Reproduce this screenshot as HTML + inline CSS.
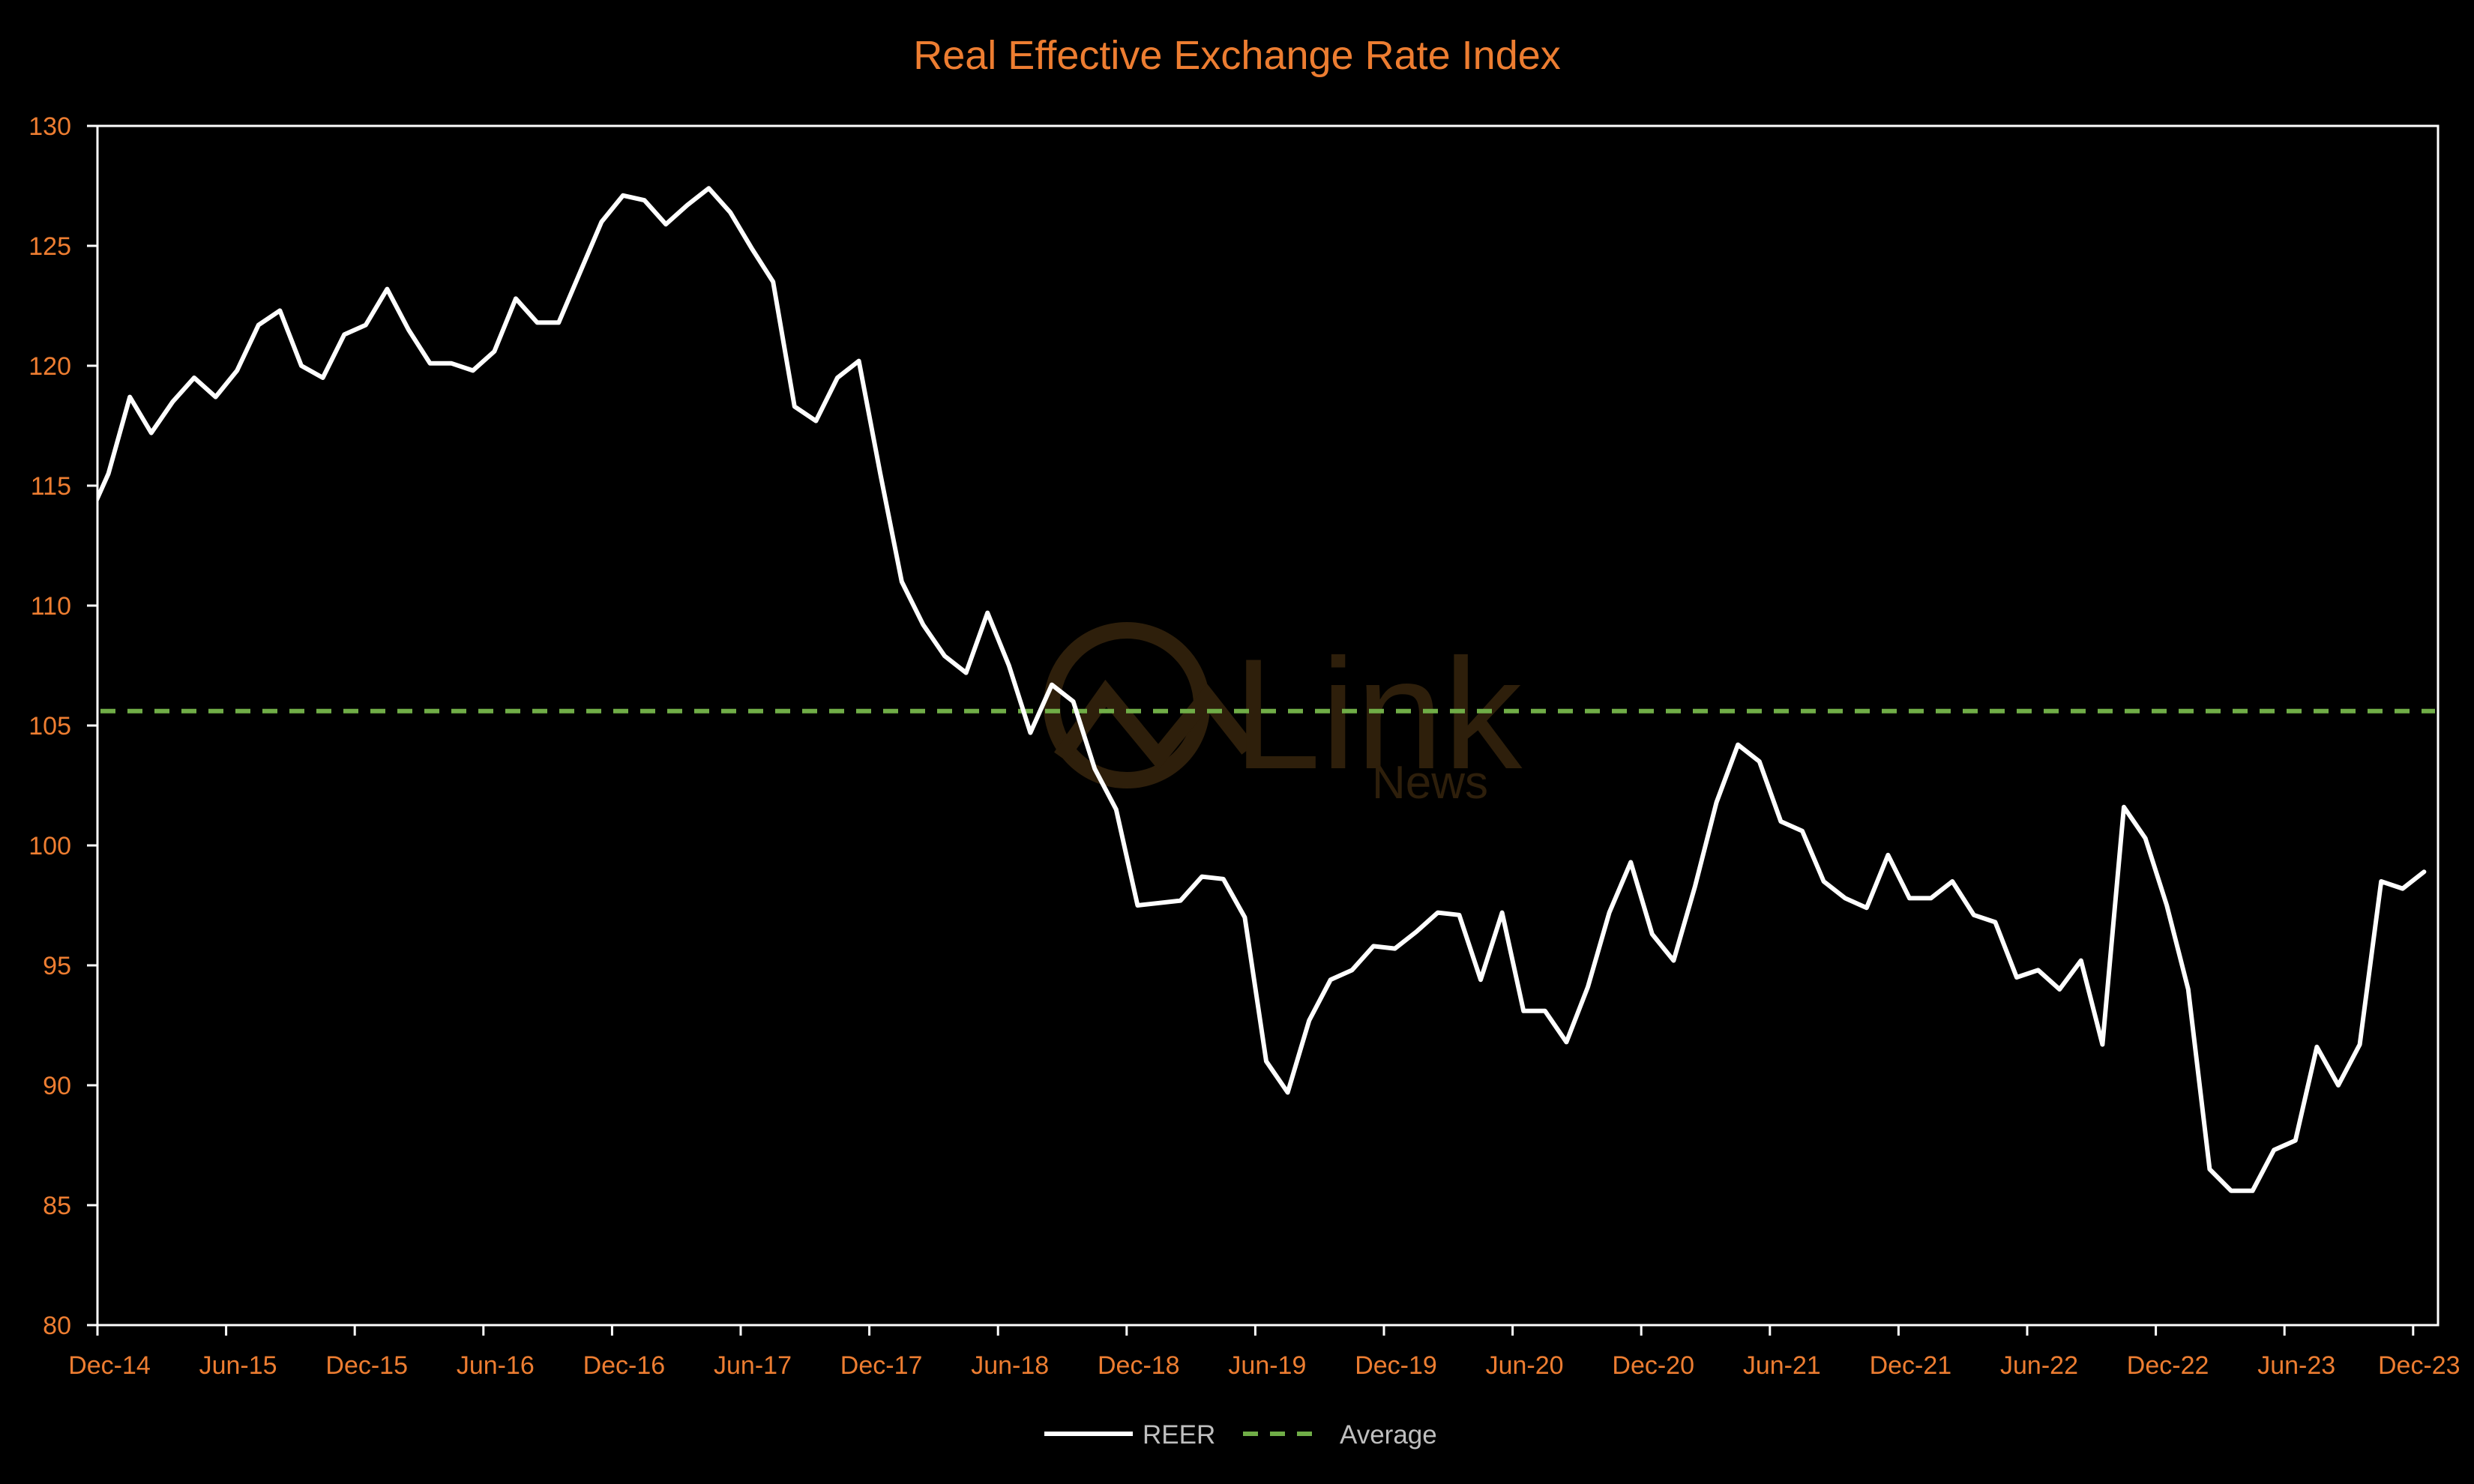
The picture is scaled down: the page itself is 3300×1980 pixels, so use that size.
<!DOCTYPE html>
<html><head><meta charset="utf-8"><style>
html,body{margin:0;padding:0;background:#000;}
svg{display:block;}
</style></head><body>
<svg id="chart" width="3300" height="1980" viewBox="0 0 3300 1980" xmlns="http://www.w3.org/2000/svg">
<rect x="0" y="0" width="3300" height="1980" fill="#000"/>
<text x="1650" y="92" text-anchor="middle" font-family="Liberation Sans, sans-serif" font-size="54" fill="#ED7D31">Real Effective Exchange Rate Index</text>
<g opacity="1">
<circle cx="1503" cy="941" r="100" fill="none" stroke="#2e1f0b" stroke-width="22"/>
<polyline points="1415,1010 1475,925 1545,1010 1610,930 1665,1000" fill="none" stroke="#2e1f0b" stroke-width="22"/>
<text x="1645" y="1025" font-family="Liberation Sans, sans-serif" font-size="210" fill="#2e1f0b">Link</text>
<text x="1830" y="1065" font-family="Liberation Sans, sans-serif" font-size="62" fill="#2e1f0b">News</text>
</g>
<defs><clipPath id="plotclip"><rect x="130" y="160" width="3122" height="1620"/></clipPath></defs>
<g id="axes"></g>
<g id="series" clip-path="url(#plotclip)"></g>
<g>
<line x1="1393" y1="1913" x2="1511" y2="1913" stroke="#fff" stroke-width="6"/>
<text x="1524" y="1926" font-family="Liberation Sans, sans-serif" font-size="35" fill="#bfbfbf">REER</text>
<line x1="1658" y1="1913" x2="1764" y2="1913" stroke="#70AD47" stroke-width="6" stroke-dasharray="20,16"/>
<text x="1787" y="1926" font-family="Liberation Sans, sans-serif" font-size="35" fill="#bfbfbf">Average</text>
</g>
</svg>
<script>
const reerValues = [113.5,115.5,118.7,117.2,118.5,119.5,118.7,119.8,121.7,122.3,
120.0,119.5,121.3,121.7,123.2,121.5,120.1,120.1,119.8,120.6,
122.8,121.8,121.8,123.9,126.0,127.1,126.9,125.9,126.7,127.4,
126.4,124.9,123.5,118.3,117.7,119.5,120.2,115.5,111.0,109.2,
107.9,107.2,109.7,107.5,104.7,106.7,106.0,103.2,101.5,97.5,
97.6,97.7,98.7,98.6,97.0,91.0,89.7,92.7,94.4,94.8,
95.8,95.7,96.4,97.2,97.1,94.4,97.2,93.1,93.1,91.8,
94.1,97.2,99.3,96.3,95.2,98.3,101.8,104.2,103.5,101.0,
100.6,98.5,97.8,97.4,99.6,97.8,97.8,98.5,97.1,96.8,
94.5,94.8,94.0,95.2,91.7,101.6,100.3,97.5,94.0,86.5,
85.6,85.6,87.3,87.7,91.6,90.0,91.7,98.5,98.2,98.9];
const averageValue = 105.6;
const yTicks = [80,85,90,95,100,105,110,115,120,125,130];
const xTickLabels = ["Dec-14","Jun-15","Dec-15","Jun-16","Dec-16","Jun-17","Dec-17","Jun-18","Dec-18","Jun-19","Dec-19","Jun-20","Dec-20","Jun-21","Dec-21","Jun-22","Dec-22","Jun-23","Dec-23"];

const NS="http://www.w3.org/2000/svg";
const L=130,R=3252,T=168,B=1768;
const yMin=80,yMax=130;
function yScale(v){return B-(v-yMin)/(yMax-yMin)*(B-T);}
const step=28.6;
function xScale(i){return 116+step*i;}
function tickX(k){return 130+step*6*k;}
function mk(tag,attrs,parent){const e=document.createElementNS(NS,tag);for(const k in attrs)e.setAttribute(k,attrs[k]);parent.appendChild(e);return e;}
const axes=document.getElementById('axes');
const series=document.getElementById('series');
const f="Liberation Sans, sans-serif";

let fr=mk('rect',{x:L,y:T,width:R-L,height:B-T,fill:'none',stroke:'#fff','stroke-width':3},axes);



yTicks.forEach(v=>{
  const y=yScale(v);
  const t=mk('line',{x1:L-14,y1:y,x2:L,y2:y,stroke:'#fff','stroke-width':3},axes);
  
  
  const lb=mk('text',{x:95,y:y+12,'text-anchor':'end','font-family':f,'font-size':34,fill:'#ED7D31'},axes);
  lb.textContent=v;
  
  
});
xTickLabels.forEach((s,k)=>{
  const x=tickX(k);
  const t=mk('line',{x1:x,y1:B,x2:x,y2:B+14,stroke:'#fff','stroke-width':3},axes);
  
  
  let tx=x+16;
  if(k===xTickLabels.length-1) tx=x+8;
  const lb=mk('text',{x:tx,y:1833,'text-anchor':'middle','font-family':f,'font-size':34,fill:'#ED7D31'},axes);
  lb.textContent=s;
  
  
});

const avg=mk('line',{x1:L+4,y1:yScale(averageValue),x2:R-4,y2:yScale(averageValue),stroke:'#70AD47','stroke-width':6,'stroke-dasharray':'20,16'},series);



const pts=reerValues.map((v,i)=>xScale(i).toFixed(1)+','+yScale(v).toFixed(1)).join(' ');
const line=mk('polyline',{points:pts,fill:'none',stroke:'#fff','stroke-width':6,'stroke-linejoin':'round','stroke-linecap':'round'},series);


</script>
</body></html>
